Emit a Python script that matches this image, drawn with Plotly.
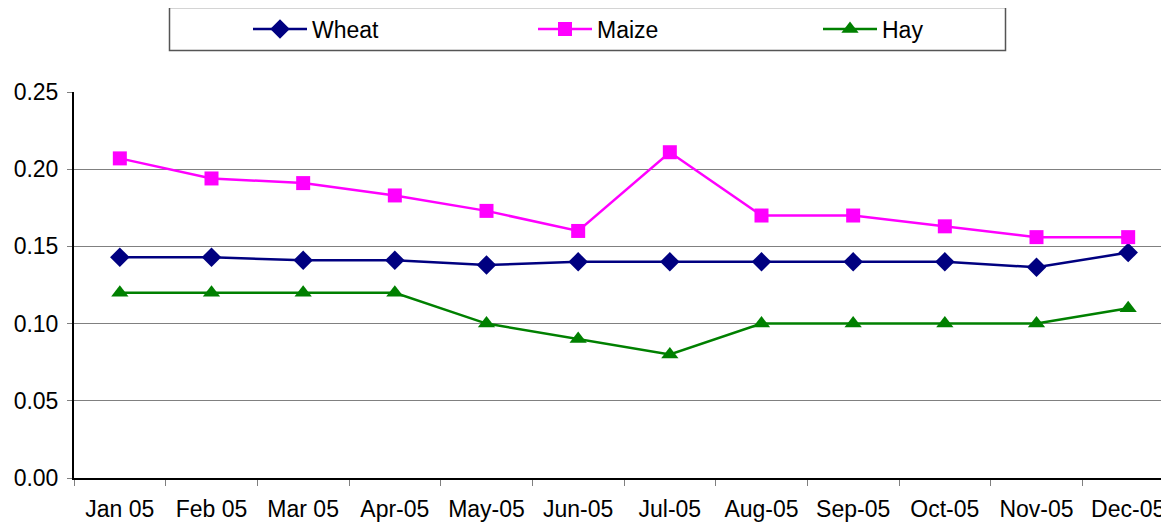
import plotly.graph_objects as go

months = ["Jan 05", "Feb 05", "Mar 05", "Apr-05", "May-05", "Jun-05",
          "Jul-05", "Aug-05", "Sep-05", "Oct-05", "Nov-05", "Dec-05"]
wheat = [0.143, 0.143, 0.141, 0.141, 0.138, 0.140, 0.140, 0.140, 0.140, 0.140, 0.1365, 0.146]
maize = [0.207, 0.194, 0.191, 0.183, 0.173, 0.160, 0.211, 0.170, 0.170, 0.163, 0.156, 0.156]
hay = [0.12, 0.12, 0.12, 0.12, 0.10, 0.09, 0.08, 0.10, 0.10, 0.10, 0.10, 0.11]
y_ticks = [0.00, 0.05, 0.10, 0.15, 0.20, 0.25]

# page body adds an 8px offset; figure coords = screen coords - 8
OFF = 8
W, H = 1166, 519
L, T, B, R = 66, 84, 49, 0
pw, ph = W - L - R, H - T - B

def px_x(screen_x):
    return (screen_x - OFF - L) / pw

def px_y(screen_y):
    return (H - B - (screen_y - OFF)) / ph

FONT = "Liberation Sans, Arial, sans-serif"
FS = 23

fig = go.Figure()
fig.add_trace(go.Scatter(x=months, y=wheat, name="Wheat", mode="lines+markers",
                         line=dict(color="#000080", width=2.5),
                         marker=dict(symbol="diamond", size=15, color="#000080")))
fig.add_trace(go.Scatter(x=months, y=maize, name="Maize", mode="lines+markers",
                         line=dict(color="#FF00FF", width=2.5),
                         marker=dict(symbol="square", size=14, color="#FF00FF")))
fig.add_trace(go.Scatter(x=months, y=hay, name="Hay", mode="lines+markers",
                         line=dict(color="#008000", width=2.5),
                         marker=dict(symbol="triangle-up", size=15, color="#008000")))

# legend frame
fig.add_shape(type="rect", xref="paper", yref="paper",
              x0=px_x(169.5), x1=px_x(1005.5), y0=px_y(50.5), y1=px_y(7.5),
              line=dict(color="#555555", width=1.5), fillcolor="rgba(0,0,0,0)")

fig.update_layout(
    width=W, height=H,
    margin=dict(l=L, r=R, t=T, b=B, pad=0, autoexpand=False),
    paper_bgcolor="white", plot_bgcolor="white",
    font=dict(family=FONT, size=FS, color="black"),
    showlegend=True,
    legend=dict(orientation="h", x=px_x(248), xanchor="left",
                y=px_y(29), yanchor="middle",
                bgcolor="rgba(0,0,0,0)", borderwidth=0,
                entrywidth=216, entrywidthmode="pixels", itemwidth=54,
                font=dict(family=FONT, size=FS, color="black")),
    xaxis=dict(type="category", range=[-0.5, 11.5],
               tickson="boundaries", ticks="outside", ticklen=6,
               tickcolor="#808080", tickwidth=1,
               showline=True, linecolor="black", linewidth=2,
               showgrid=False, zeroline=False, automargin=False,
               ticklabelstandoff=9,
               tickfont=dict(family=FONT, size=FS, color="black")),
    yaxis=dict(range=[0, 0.25], tickvals=y_ticks, tickformat=".2f",
               ticks="outside", ticklen=5, tickcolor="#808080", tickwidth=1,
               showline=True, linecolor="black", linewidth=2,
               showgrid=True, gridcolor="#808080", gridwidth=1,
               zeroline=False, ticklabelstandoff=4, automargin=False,
               tickfont=dict(family=FONT, size=FS, color="black")),
)

fig.write_html("out.html")
